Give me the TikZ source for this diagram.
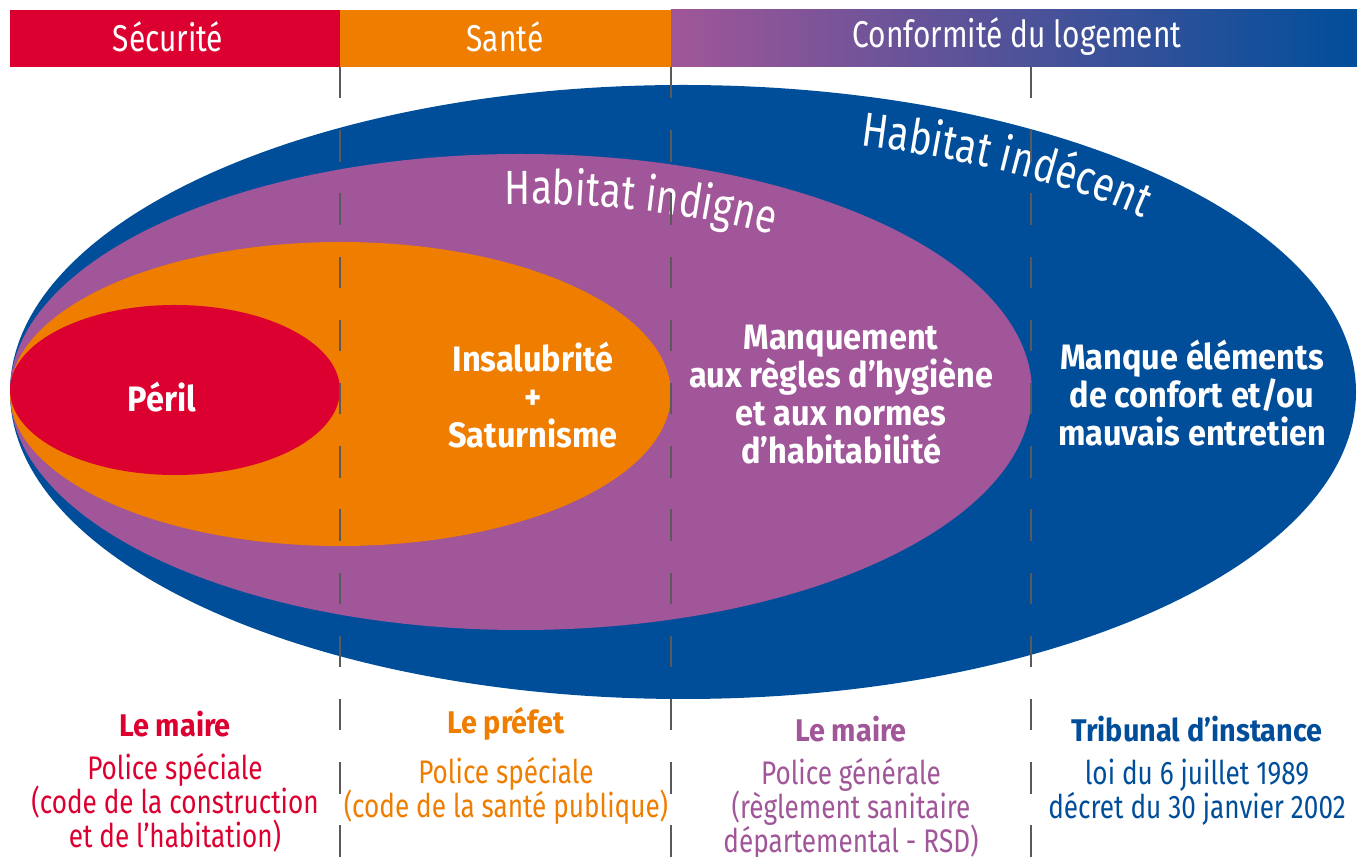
\documentclass[tikz,border=0pt]{standalone}
\usepackage{fontspec}
\setmainfont{Fira Sans}[UprightFeatures={FakeStretch=0.8},BoldFeatures={FakeStretch=0.92}]
\usetikzlibrary{positioning,decorations.text}
\definecolor{secred}{RGB}{220,0,48}
\definecolor{santor}{RGB}{239,125,0}
\definecolor{indpurple}{RGB}{160,86,152}
\definecolor{indblue}{RGB}{0,78,154}
\definecolor{sepgray}{RGB}{90,90,90}
\newcommand\tightlines{\lineskiplimit -20pt\lineskip 0pt\relax}

\begin{document}
\begin{tikzpicture}[x=0.75pt,y=0.75pt,
  bar/.style={text=white,font=\fontsize{28}{30}\selectfont},
  zone/.style={text=white,font=\bfseries\fontsize{26.5}{28.5}\selectfont,align=center},
  who/.style={font=\bfseries\fontsize{23.5}{25}\selectfont},
  law/.style={font=\fontsize{24.5}{25.5}\selectfont\tightlines,align=center,inner sep=0pt},
  sep/.style={draw=sepgray,line width=1.5pt,dash pattern=on 23.6pt off 23.8pt}]
  \useasboundingbox (0,0) rectangle (1357,857);

  % bandeau du haut
  \fill[secred] (10,790) rectangle (340,847);
  \fill[santor] (340,790) rectangle (671,847);
  \shade[left color=indpurple,right color=indblue] (671,790) rectangle (1357,847);
  \node[bar] (h1) at (168,820) {Sécurité};
  \node[bar] (h2) at (505,820) {Santé};
  \node[bar] (h3) at (1017,820) {Conformité du logement};

  % ellipses emboitees
  \fill[indblue] (683,465) ellipse [x radius=673,y radius=307];
  \fill[indpurple] (521,465) ellipse [x radius=511,y radius=238];
  \fill[santor] (340.5,463) ellipse [x radius=330.5,y radius=152];
  \fill[secred] (175,467) ellipse [x radius=165,y radius=85];

  \path[decorate,decoration={text along path,text color=white,
    text={|\fontsize{36}{36}\selectfont|Habitat indigne}}]
    (521,465) ++(92:460 and 188) arc [start angle=92,end angle=35,x radius=460,y radius=188];
  \path[decorate,decoration={text along path,text color=white,
    text={|\fontsize{36}{36}\selectfont|Habitat indécent}}]
    (683,465) ++(73.5:625 and 257) arc [start angle=73.5,end angle=15,x radius=625,y radius=257];

  \node[zone] (z1) at (162,460) {Péril};
  \node[zone] (z2) at (533,462) {Insalubrité\\+\\Saturnisme};
  \node[zone] (z3) at (841,462) {Manquement\\aux règles d’hygiène\\et aux normes\\d’habitabilité};
  \node[zone] (z4) at (1192,464) {Manque éléments\\de confort et/ou\\mauvais entretien};

  % separateurs
  \foreach \x [count=\i] in {340,671,1031} {
    \coordinate (t\i) at (\x,790);
    \coordinate (b\i) at (\x,0);
    \draw[sep] (t\i) -- (b\i);
  }

  % autorites
  \node[who,text=secred] (a1) at (175,133) {Le maire};
  \node[law,text=secred,below=8.7pt of a1] (l1) {Police spéciale\\(code de la construction\\et de l’habitation)};
  \node[who,text=santor] (a2) at (506,133) {Le préfet};
  \node[law,text=santor,below=8.7pt of a2] (l2) {Police spéciale\\(code de la santé publique)};
  \node[who,text=indpurple] (a3) at (851,128) {Le maire};
  \node[law,text=indpurple,below=8.7pt of a3] (l3) {Police générale\\(règlement sanitaire\\départemental - RSD)};
  \node[who,text=indblue] (a4) at (1197,128) {Tribunal d’instance};
  \node[law,text=indblue,below=8.7pt of a4] (l4) {loi du 6 juillet 1989\\décret du 30 janvier 2002};
\end{tikzpicture}
\end{document}
